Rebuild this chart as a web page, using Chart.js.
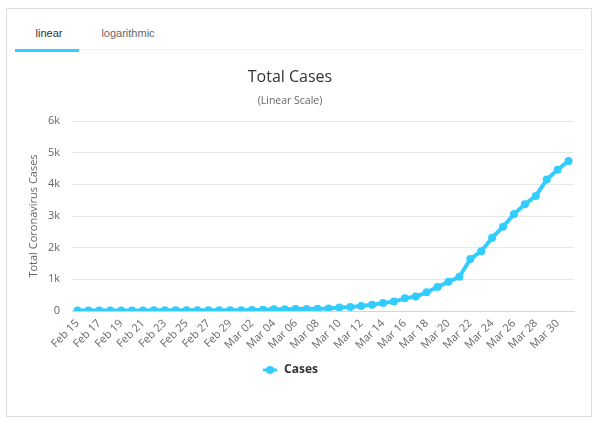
<!DOCTYPE html>
<html><head><meta charset="utf-8">
<script src="https://cdn.jsdelivr.net/npm/chart.js@4.4.1/dist/chart.umd.min.js"></script>
<style>
html,body{margin:0;padding:0;background:#fff;width:600px;height:431px;overflow:hidden;}
#frame{position:absolute;left:6px;top:8px;width:586px;height:409px;box-sizing:border-box;border:1px solid #ddd;}
.tab{position:absolute;top:18px;height:30px;line-height:30px;font-size:11px;font-family:"Liberation Sans",Arial,sans-serif;text-align:center;}
#t1{left:15px;width:68px;color:#333;}
#t2{left:88px;width:80px;color:#666;}
#sep{position:absolute;left:15px;top:49px;width:570px;height:1px;background:#f0f0f0;}
#ul{position:absolute;left:15px;top:49px;width:64px;height:3px;background:#33ccff;}
#c{position:absolute;left:0;top:0;}
</style></head>
<body>
<div id="frame"></div>
<div class="tab" id="t1">linear</div>
<div class="tab" id="t2">logarithmic</div>
<div id="sep"></div>
<div id="ul"></div>
<canvas id="c" width="600" height="431"></canvas>
<script>
const dates = ["Feb 15","Feb 16","Feb 17","Feb 18","Feb 19","Feb 20","Feb 21","Feb 22","Feb 23","Feb 24","Feb 25","Feb 26","Feb 27","Feb 28","Feb 29","Mar 01","Mar 02","Mar 03","Mar 04","Mar 05","Mar 06","Mar 07","Mar 08","Mar 09","Mar 10","Mar 11","Mar 12","Mar 13","Mar 14","Mar 15","Mar 16","Mar 17","Mar 18","Mar 19","Mar 20","Mar 21","Mar 22","Mar 23","Mar 24","Mar 25","Mar 26","Mar 27","Mar 28","Mar 29","Mar 30","Mar 31"];
const cases = [15,15,15,15,15,15,17,21,22,22,22,23,23,23,25,27,33,39,52,55,60,63,74,80,107,128,160,200,250,297,400,455,590,760,920,1080,1640,1890,2310,2660,3060,3370,3635,4150,4460,4740];
const yTicks = [0,1000,2000,3000,4000,5000,6000];
const yTickLabels = ["0","1k","2k","3k","4k","5k","6k"];
const seriesName = "Cases";
const chartTitle = "Total Cases";
const chartSubtitle = "(Linear Scale)";
const yAxisTitle = "Total Coronavirus Cases";
const lineColor = "#33ccff";

Chart.defaults.font.family = '"Open Sans", sans-serif';

const sym = document.createElement('canvas');
sym.width = 16; sym.height = 10;
const sc = sym.getContext('2d');
sc.strokeStyle = lineColor; sc.lineWidth = 3;
sc.beginPath(); sc.moveTo(1,5); sc.lineTo(15,5); sc.stroke();
sc.fillStyle = lineColor;
sc.beginPath(); sc.arc(8,5,4,0,Math.PI*2); sc.fill();

new Chart(document.getElementById('c'), {
  type: 'line',
  data: {
    labels: dates,
    datasets: [{
      label: seriesName,
      data: cases,
      borderColor: lineColor,
      backgroundColor: lineColor,
      pointBackgroundColor: lineColor,
      pointBorderColor: lineColor,
      borderWidth: 4,
      pointRadius: 4,
      pointBorderWidth: 0,
      tension: 0,
      fill: false
    }]
  },
  options: {
    responsive: false,
    animation: false,
    layout: { padding: { left: 6, right: 26, top: 56, bottom: 45 } },
    plugins: {
      title: { display: true, text: chartTitle, color: '#333', font: { size: 16, weight: 'normal' }, padding: { top: 11.4, bottom: 8.1 } },
      subtitle: { display: true, text: chartSubtitle, color: '#666', font: { size: 10.5 }, padding: { top: 0, bottom: 13.7 } },
      legend: { position: 'bottom', labels: { usePointStyle: true, pointStyle: sym, pointStyleWidth: 16, color: '#333', font: { size: 12, weight: 'bold' }, padding: 10 } },
      tooltip: { enabled: false }
    },
    scales: {
      x: {
        type: 'category',
        offset: true,
        grid: { display: false, drawTicks: false },
        border: { display: true, color: '#ccd6eb', width: 1 },
        ticks: { autoSkip: false, maxRotation: 45, minRotation: 45, padding: 6, color: '#666', font: { size: 11 },
          callback: (v, i) => (i % 2 === 0 ? dates[i] : null) },
        afterFit: (s) => { s.height = 43; }
      },
      y: {
        min: 0, max: 6000,
        grid: { color: '#e6e6e6', drawTicks: false },
        border: { display: false },
        ticks: { stepSize: 1000, padding: 12, color: '#666', font: { size: 11 },
          callback: (v) => yTickLabels[yTicks.indexOf(v)] },
        title: { display: true, text: yAxisTitle, color: '#666', font: { size: 11 }, padding: { top: 21, bottom: 0 } },
        afterFit: (s) => { s.width = 66; }
      }
    }
  }
});
</script>
</body></html>
